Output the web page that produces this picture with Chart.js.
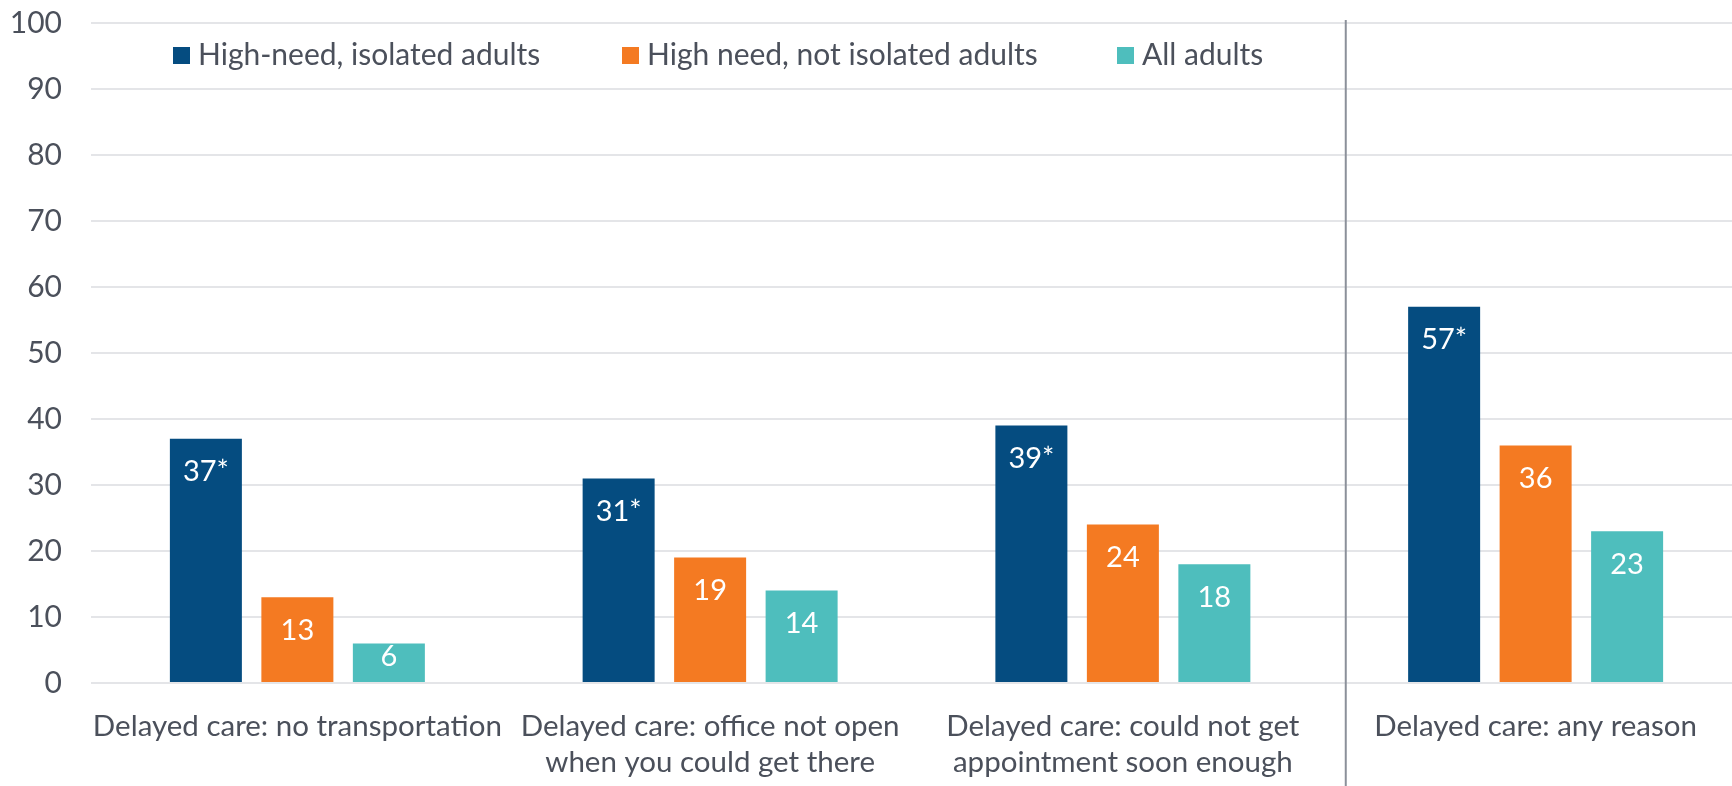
<!DOCTYPE html>
<html>
<head>
<meta charset="utf-8">
<script src="https://cdn.jsdelivr.net/npm/chart.js@4.4.1/dist/chart.umd.min.js"></script>
<style>
    html, body { margin: 0; padding: 0; background: #fff; overflow: hidden; }
    #wrap { position: relative; width: 1745px; height: 786px; }
</style>
</head>
<body>
<div id="wrap"><canvas id="chart"></canvas></div>
<script>
// Chart data
const categories = [
    ['Delayed care: no transportation'],
    ['Delayed care: office not open', 'when you could get there'],
    ['Delayed care: could not get', 'appointment soon enough'],
    ['Delayed care: any reason']
];
const seriesNames = ['High-need, isolated adults', 'High need, not isolated adults', 'All adults'];
const isolatedValues = [37, 31, 39, 57];
const notIsolatedValues = [13, 19, 24, 36];
const allAdultsValues = [6, 14, 18, 23];
// asterisk = significant difference
const isolatedSig = [true, true, true, true];
const notIsolatedSig = [false, false, false, false];
const allAdultsSig = [false, false, false, false];
const yTicks = [0, 10, 20, 30, 40, 50, 60, 70, 80, 90, 100];

const colors = ['#054c80', '#f47a22', '#4ebebd'];
const textColor = '#4b505b';
const gridColor = '#e4e5e8';
const FONT = 'Lato, "Open Sans", sans-serif';

// Draw value labels inside the bars
const barLabels = {
    id: 'barLabels',
    afterDatasetsDraw(chart) {
        const ctx = chart.ctx;
        ctx.save();
        ctx.fillStyle = '#ffffff';
        ctx.font = '29px ' + FONT;
        ctx.textAlign = 'center';
        ctx.textBaseline = 'middle';
        chart.data.datasets.forEach((ds, i) => {
            chart.getDatasetMeta(i).data.forEach((bar, j) => {
                const txt = ds.data[j] + (ds.sig[j] ? '*' : '');
                const y = Math.min(bar.y + 33, bar.base - 25);
                ctx.fillText(txt, bar.x, y);
            });
        });
        ctx.restore();
    }
};

// Legend drawn by hand (uneven spacing in the original)
const customLegend = {
    id: 'customLegend',
    afterDraw(chart) {
        const ctx = chart.ctx;
        const xs = [173, 622, 1117];
        const yMid = 55;
        ctx.save();
        ctx.font = '30px ' + FONT;
        ctx.textBaseline = 'middle';
        ctx.textAlign = 'left';
        chart.data.datasets.forEach((ds, i) => {
            ctx.fillStyle = ds.backgroundColor;
            ctx.fillRect(xs[i], yMid - 8, 17, 17);
            ctx.fillStyle = textColor;
            ctx.fillText(ds.label, xs[i] + 25, yMid);
        });
        ctx.restore();
    }
};

// Vertical divider before the "any reason" group
const divider = {
    id: 'divider',
    afterDraw(chart) {
        const ctx = chart.ctx;
        const x = chart.scales.x.getPixelForValue(2.54);
        ctx.save();
        ctx.strokeStyle = '#8b909a';
        ctx.lineWidth = 2;
        ctx.beginPath();
        ctx.moveTo(x, 20);
        ctx.lineTo(x, chart.height);
        ctx.stroke();
        ctx.restore();
    }
};

function makeDataset(label, data, sig, color) {
    return {
        label: label,
        data: data,
        sig: sig,
        backgroundColor: color,
        borderWidth: 0,
        categoryPercentage: 0.665,
        barPercentage: 0.787
    };
}

const ctx = document.getElementById('chart').getContext('2d');
const chart = new Chart(ctx, {
    type: 'bar',
    data: {
        labels: categories,
        datasets: [
            makeDataset(seriesNames[0], isolatedValues, isolatedSig, colors[0]),
            makeDataset(seriesNames[1], notIsolatedValues, notIsolatedSig, colors[1]),
            makeDataset(seriesNames[2], allAdultsValues, allAdultsSig, colors[2])
        ]
    },
    options: {
        responsive: true,
        maintainAspectRatio: false,
        animation: false,
        layout: { padding: { top: 23, right: 3, left: 0, bottom: 0 } },
        plugins: {
            legend: { display: false },
            tooltip: { enabled: false }
        },
        scales: {
            x: {
                grid: { display: false, drawTicks: false },
                border: { display: false },
                ticks: {
                    color: textColor,
                    font: { family: FONT, size: 29.5, lineHeight: 1.22 },
                    padding: 25,
                    maxRotation: 0,
                    autoSkip: false
                },
                afterFit(scale) {
                    scale.height = 103;
                    scale.paddingLeft = 0;
                    scale.paddingRight = 0;
                }
            },
            y: {
                min: 0,
                max: 100,
                afterBuildTicks(scale) { scale.ticks = yTicks.map(v => ({ value: v })); },
                grid: { color: gridColor, lineWidth: 2, drawTicks: false },
                border: { display: false },
                ticks: {
                    color: textColor,
                    font: { family: FONT, size: 30 },
                    padding: 29
                },
                afterFit(scale) {
                    scale.width = 91;
                    scale.paddingTop = 0;
                    scale.paddingBottom = 0;
                }
            }
        }
    },
    plugins: [barLabels, customLegend, divider]
});
</script>
</body>
</html>
